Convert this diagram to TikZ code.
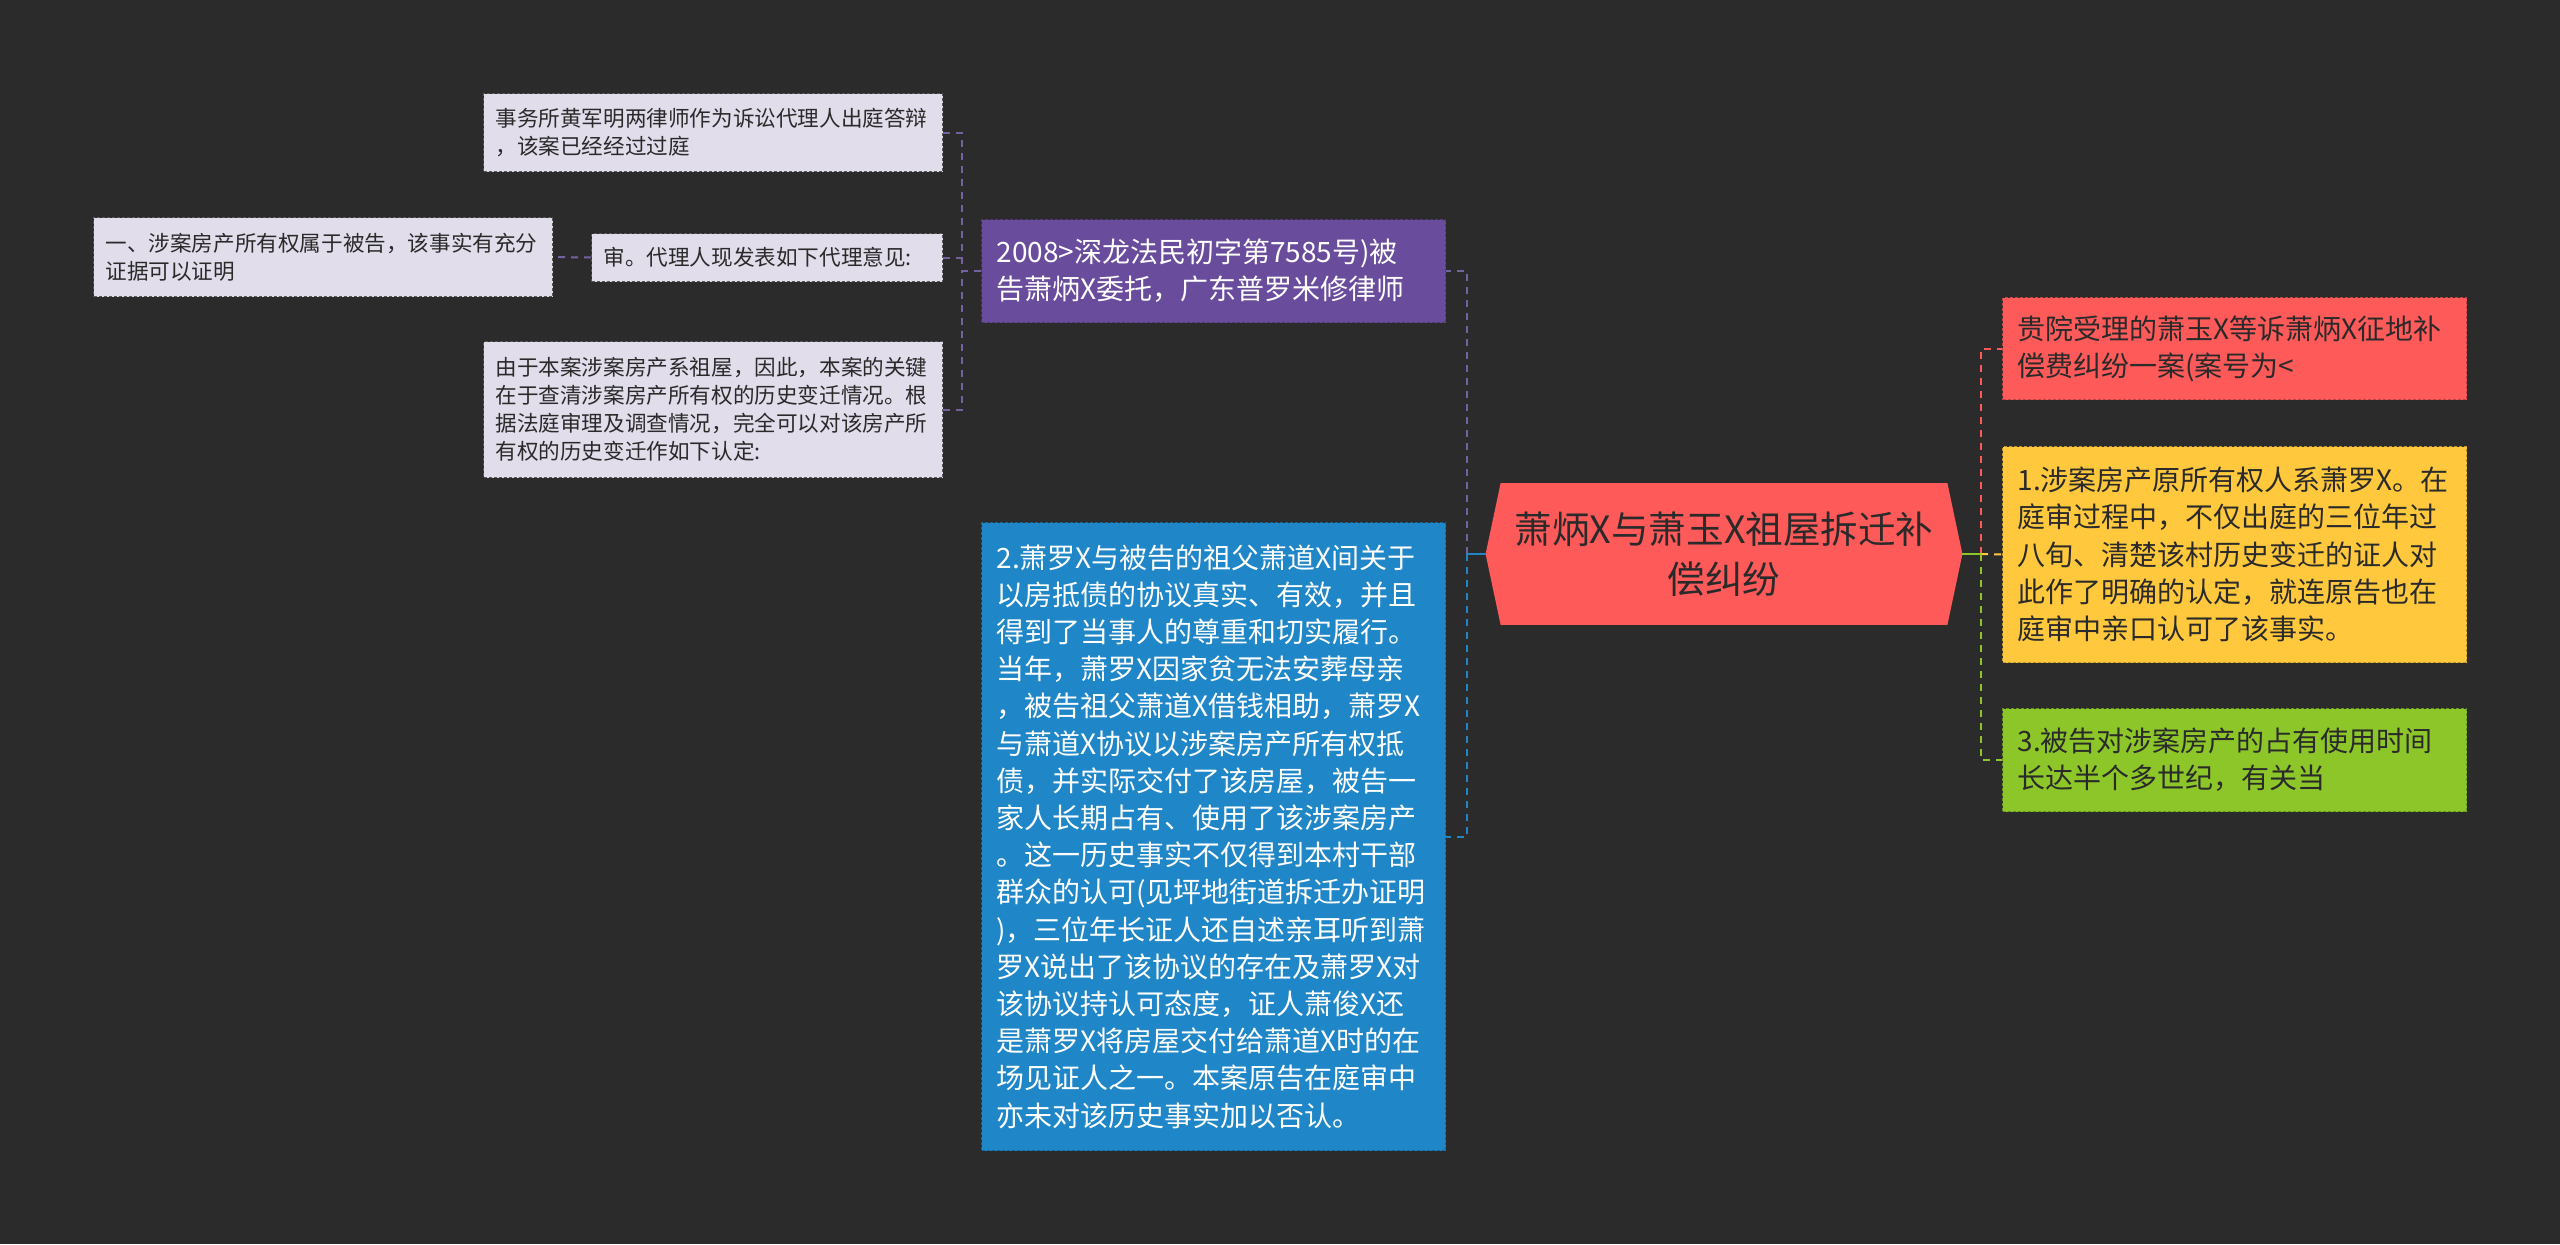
\documentclass[tikz,border=0pt]{standalone}
\usepackage{fontspec}
\usepackage{xcolor}
\usepackage{tikz}
\usetikzlibrary{positioning,calc,backgrounds}
\newfontfamily\cjkfont{Noto Sans CJK SC}
\definecolor{bgdark}{HTML}{2B2B2B}
\definecolor{notefill}{HTML}{E1DDEB}
\definecolor{inktext}{HTML}{2A2A2A}
\definecolor{caseviolet}{HTML}{6A4C9C}
\definecolor{caseblue}{HTML}{1F86C7}
\definecolor{casered}{HTML}{FF5A5A}
\definecolor{caseyellow}{HTML}{FFC83D}
\definecolor{casegreen}{HTML}{8DC629}
\definecolor{linkviolet}{HTML}{7462A0}
\tikzset{
  card/.style={draw=#1!75!black, fill=#1, dash pattern=on 1.5pt off 1pt, line width=0.5pt,
    anchor=north west, inner xsep=7.5pt, inner ysep=0pt, align=left, text width=217pt,
    text=inktext, font=\cjkfont\fontsize{14pt}{18.6pt}\selectfont},
  note/.style={card=notefill, draw=black!65, inner xsep=6pt, text width=217.5pt,
    font=\cjkfont\fontsize{10.8pt}{14pt}\selectfont},
  link/.style={dash pattern=on 3.5pt off 3pt, line width=1pt},
  stub/.style={line width=1pt}
}
\begin{document}
\begin{tikzpicture}[x=0.5pt, y=-0.5pt]
    \useasboundingbox (0,0) rectangle (2560,1244);
    \node[note, minimum height=39pt] (lawyers) at (483,93) {事务所黄军明两律师作为诉讼代理人出庭答辩\\，该案已经经过过庭};
    \node[note, minimum height=39.5pt] (ownership) at (93,217) {一、涉案房产所有权属于被告，该事实有充分\\证据可以证明};
    \node[note, minimum height=24pt, text width=163.5pt] (opinion) at (591,233) {审。代理人现发表如下代理意见:};
    \node[note, minimum height=68pt] (history) at (483,341) {由于本案涉案房产系祖屋，因此，本案的关键\\在于查清涉案房产所有权的历史变迁情况。根\\据法庭审理及调查情况，完全可以对该房产所\\有权的历史变迁作如下认定:};
    \node[card=caseviolet, text=white, minimum height=51.5pt] (entrust) at (981,219) {2008>深龙法民初字第7585号)被\\告萧炳X委托，广东普罗米修律师};
    \node[card=caseblue, text=white, minimum height=314pt] (agreement) at (981,522) {2.萧罗X与被告的祖父萧道X间关于\\以房抵债的协议真实、有效，并且\\得到了当事人的尊重和切实履行。\\当年，萧罗X因家贫无法安葬母亲\\，被告祖父萧道X借钱相助，萧罗X\\与萧道X协议以涉案房产所有权抵\\债，并实际交付了该房屋，被告一\\家人长期占有、使用了该涉案房产\\。这一历史事实不仅得到本村干部\\群众的认可(见坪地街道拆迁办证明\\)，三位年长证人还自述亲耳听到萧\\罗X说出了该协议的存在及萧罗X对\\该协议持认可态度，证人萧俊X还\\是萧罗X将房屋交付给萧道X时的在\\场见证人之一。本案原告在庭审中\\亦未对该历史事实加以否认。};
    \node[minimum width=238pt, minimum height=70.5pt, align=center, text=inktext,
      font=\cjkfont\fontsize{18.8pt}{25pt}\selectfont] (dispute) at (1724,554) {萧炳X与萧玉X祖屋拆迁补\\偿纠纷};
    \node[card=casered, minimum height=51pt] (claim) at (2002,297) {贵院受理的萧玉X等诉萧炳X征地补\\偿费纠纷一案(案号为<};
    \node[card=caseyellow, minimum height=108pt] (owner) at (2002,446) {1.涉案房产原所有权人系萧罗X。在\\庭审过程中，不仅出庭的三位年过\\八旬、清楚该村历史变迁的证人对\\此作了明确的认定，就连原告也在\\庭审中亲口认可了该事实。};
    \node[card=casegreen, minimum height=51.5pt] (occupy) at (2002,708) {3.被告对涉案房产的占有使用时间\\长达半个多世纪，有关当};
    \begin{scope}[on background layer]
        \fill[bgdark] (0,0) rectangle (2560,1244);
        \fill[casered] ($(dispute.north west)+(15,0)$) -- ($(dispute.north east)+(-15,0)$) -- (dispute.east)
          -- ($(dispute.south east)+(-15,0)$) -- ($(dispute.south west)+(15,0)$) -- (dispute.west) -- cycle;
    \end{scope}
    \coordinate (lefttrunk) at (962,271);
    \coordinate (midtrunk) at (1467,554);
    \coordinate (righttrunk) at (1981,554);
    \draw[link, linkviolet] (lawyers.east) -| (lefttrunk) -- (entrust.west);
    \draw[link, linkviolet] (history.east) -| (lefttrunk);
    \draw[link, linkviolet] (opinion.east) -- (opinion.east -| lefttrunk);
    \draw[link, linkviolet] (opinion.west) -- (ownership.east);
    \draw[link, linkviolet] (midtrunk) |- (entrust.east);
    \draw[link, caseblue] (midtrunk) |- (agreement.east);
    \draw[stub, caseblue] (dispute.west) -- (midtrunk);
    \draw[link, casered] (righttrunk) |- (claim.west);
    \draw[link, caseyellow] (righttrunk) -- (owner.west);
    \draw[link, casegreen] (righttrunk) |- (occupy.west);
    \draw[stub, casegreen] (dispute.east) -- (righttrunk);
\end{tikzpicture}
\end{document}
